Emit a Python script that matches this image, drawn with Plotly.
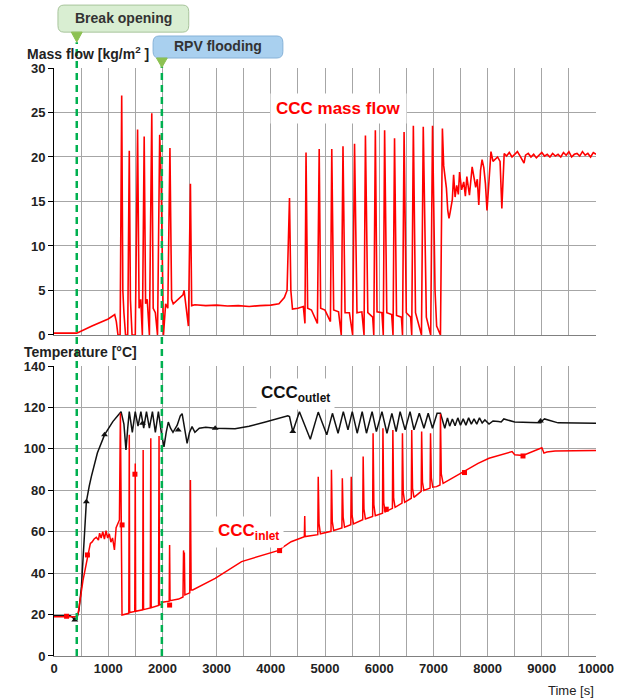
import plotly.graph_objects as go

# ---------------- data ----------------
flow_t = [0, 400, 420, 700, 1000, 1120, 1150, 1180, 1220, 1249, 1270, 1290, 1320, 1360, 1389, 1410, 1440, 1500,
          1542, 1570, 1600, 1630, 1664, 1690, 1720, 1760, 1804, 1830, 1870, 1910, 1950, 1975, 2000, 2020, 2060,
          2100, 2139, 2170, 2200, 2300, 2380, 2400, 2440, 2480, 2517, 2540, 2600, 2800, 3000, 3200, 3400, 3600,
          3800, 4000, 4150, 4250, 4300, 4345, 4370, 4400, 4500, 4600, 4630, 4650, 4680, 4750, 4860, 4893, 4920,
          5000, 5100, 5125, 5160, 5250, 5300, 5332, 5370, 5450, 5510, 5545, 5590, 5680, 5720, 5746, 5790, 5880,
          5900, 5929, 5960, 6050, 6075, 6100, 6140, 6230, 6255, 6283, 6320, 6410, 6430, 6459, 6500, 6580, 6600,
          6630, 6670, 6780, 6813, 6850, 6870, 6950, 6984, 7030, 7060, 7130, 7166, 7190, 7209, 7240, 7265, 7288,
          7310, 7349, 7373, 7400, 7430, 7460, 7483, 7520, 7560, 7590, 7617, 7665, 7715, 7750, 7780, 7810, 7837,
          7870, 7898, 7930, 7960, 7989, 8030, 8062, 8100, 8140, 8184, 8230, 8263, 8306, 8350, 8400, 8450, 8500,
          8550, 8600, 8672, 8700, 8750, 8800, 8850, 8900, 8950, 9000, 9050, 9100, 9150, 9200, 9250, 9300, 9350,
          9400, 9450, 9500, 9550, 9600, 9650, 9700, 9750, 9800, 9850, 9900, 9950, 10000]
flow_m = [0.2, 0.2, 0.2, 1.0, 1.8, 2.3, 1.5, 0, 0, 26.9, 5, 2.5, 0, 0, 20.7, 4, 0, 0,
          23.1, 3, 4, 0, 22.3, 3.5, 4, 0, 24.9, 3, 2.5, 0, 22.5, 18, 4, 0, 3.5,
          3, 21.0, 4, 3.5, 4, 4.5, 5, 3, 1, 17.0, 3.3, 3.4, 3.3, 3.35, 3.25, 3.3, 3.2,
          3.3, 3.35, 3.5, 4.2, 5, 15.4, 5, 2.9, 3.0, 3.2, 1.3, 20.5, 3, 2.8, 1.3, 20.9, 3,
          2.8, 1.5, 20.9, 2.8, 2.6, 0, 21.2, 2.5, 2.5, 0, 21.5, 2.5, 2.6, 0, 22.4, 2.5, 2.0,
          0, 23.0, 2.6, 2.5, 0, 23.0, 2.5, 2.3, 0, 22.1, 2.2, 2.0, 0, 22.8, 2.5, 2.0, 0,
          23.5, 2.5, 0, 23.4, 9, 2, 0, 23.5, 5, 1, 0, 23.2, 19, 17.8, 16.5, 14.0, 13.1,
          13.8, 15.2, 18.0, 15.5, 16.8, 15.8, 18.3, 16.3, 17.2, 15.6, 17.8, 15.7, 18.9, 17.8, 16.6, 17.5, 14.6,
          18.5, 19.7, 18.8, 17.0, 14.0, 18.5, 20.6, 19.5, 19.8, 20.0, 19.5, 14.2, 20.4, 20.1, 20.5, 20.0, 20.3,
          20.6, 20.1, 19.3, 20.2, 20.4, 20.0, 20.3, 19.9, 20.2, 20.5, 20.1, 20.3, 20.0, 20.4, 20.1, 20.3, 20.0,
          20.5, 20.2, 20.6, 20.0, 20.3, 20.4, 20.1, 20.6, 20.2, 20.4, 20.0, 20.5, 20.3]

out_t = [0, 300, 350, 384, 420, 460, 506, 550, 597, 650, 689, 800, 932, 1085, 1180, 1237, 1290, 1328, 1360, 1389,
         1445, 1499, 1550, 1603, 1655, 1706, 1760, 1816, 1870, 1926, 1980, 2029, 2070, 2109, 2150, 2195, 2273,
         2330, 2364, 2400, 2456, 2500, 2547, 2600, 2680, 2800, 2974, 3340, 3600, 3900, 4200, 4314, 4345, 4406,
         4528, 4729, 4875, 5033, 5137, 5241, 5338, 5424, 5503, 5594, 5686, 5765, 5869, 5948, 6051, 6143, 6234,
         6313, 6386, 6478, 6569, 6642, 6740, 6825, 6904, 6983, 7068, 7130, 7210, 7260, 7300, 7350, 7400, 7450,
         7500, 7550, 7600, 7650, 7700, 7750, 7800, 7850, 7900, 7950, 8026, 8100, 8200, 8250, 8300, 8500, 8800,
         8976, 9000, 9050, 9300, 9600, 10000]
out_T = [19.5, 19.5, 18.5, 17.4, 18, 22, 33.5, 55, 74.5, 82, 86.6, 98, 106.8, 113.2, 116, 118, 112, 99.5, 110, 118,
         108, 118, 111, 118, 110, 118, 110, 118, 108, 118, 108, 101, 108, 113, 110, 108, 111.5,
         116, 117, 112, 102.7, 108, 110.8, 108, 110, 110.5, 110, 109.7, 111, 113, 115, 116, 115.6, 108.4,
         118.0, 104.7, 117.8, 106.8, 117.2, 107.6, 118.0, 109.2, 118.0, 107.6, 118.0, 107.6, 118.0, 108.4, 118.0, 107.6, 117.2,
         108.4, 118.0, 109.2, 118.0, 109.2, 117.2, 110.0, 117.2, 110.0, 117.2, 117.2, 110.0, 115.0, 111.0, 114.5, 111.2, 115.0,
         111.5, 114.5, 111.5, 115.0, 112.0, 114.5, 112.0, 115.0, 112.5, 114.0, 112.0, 113.5, 113.2, 113.0, 114.5, 113.0, 112.8, 112.6,
         113.5, 114.5, 112.6, 112.5, 112.4, 112.4]

in_t = [0, 420, 445, 536, 628, 671, 700, 740, 780, 820, 841, 870, 900, 930, 960, 990, 1020, 1050, 1080, 1115,
        1146, 1207, 1225, 1240, 1255, 1380, 1389, 1396, 1490, 1499, 1506, 1636, 1645, 1652, 1777, 1786, 1793,
        1929, 1938, 1945, 1990, 2000, 2100, 2125, 2133, 2141, 2300, 2380, 2390, 2400, 2405, 2415, 2505, 2517,
        2530, 2560, 2974, 3461, 4132, 4375, 4619, 4626, 4633, 4867, 4875, 4890, 4915, 5111, 5119, 5134, 5160,
        5312, 5320, 5335, 5360, 5476, 5484, 5499, 5525, 5696, 5704, 5719, 5745, 5879, 5887, 5902, 5928, 6061,
        6069, 6084, 6110, 6244, 6252, 6267, 6293, 6421, 6429, 6444, 6470, 6592, 6600, 6615, 6641, 6775, 6783,
        6798, 6824, 6939, 6947, 6962, 6988, 7057, 7122, 7130, 7145, 7179, 7337, 7568, 7824, 8026, 8452, 8500,
        8653, 9001, 9040, 9092, 9244, 9600, 10000]
in_T = [19, 19, 20.5, 36.7, 48.8, 54.4, 55, 56.5, 57.3, 56, 59.3, 57, 60, 56.5, 60.5, 57, 59, 55, 57, 51.2,
        62, 65.7, 117.2, 60, 19.8, 20.6, 106.8, 21, 21.5, 93, 21.6, 22.3, 99.5, 22.4, 23.2, 105.2, 23.3,
        24.4, 106.3, 24.6, 25, 26, 26.3, 26.5, 53.6, 26.7, 27.5, 28.5, 51, 45, 50, 29.5, 30.5, 85,
        32, 31.9, 37.5, 45.6, 50.9, 55.2, 57.6, 67.6, 57.7, 58.6, 86.6, 64, 59, 60.2, 89.9, 65, 60.6,
        61.8, 85.8, 67, 62.2, 63.4, 86.6, 68, 63.8, 65.8, 96.3, 71, 66.2, 67.4, 107.6, 73, 67.8, 69.0,
        110.0, 74, 69.6, 71.3, 109.2, 76, 71.8, 73.8, 107.6, 79, 74.2, 76.2, 109.2, 81, 76.6, 79.5, 108.4,
        84, 79.9, 81.1, 107.6, 86, 81.5, 81.8, 82.6, 117.0, 88, 83.4, 85.8, 89.0, 93.0, 95.5, 98.7, 97.2,
        96.8, 100.6, 98.0, 98.5, 99.0, 99.1, 99.2]

in_mark_t = [232, 617, 1256, 1493, 2133, 4162, 6130, 7574, 8653]
in_mark_T = [19.2, 48.8, 63.3, 87.8, 24.6, 50.9, 70.9, 88.6, 96.6]
out_mark_t = [384, 597, 932, 1633, 2291, 2974, 4406, 8976]
out_mark_T = [17.4, 74.5, 106.8, 112.4, 109.2, 110.0, 108.4, 113.5]

break_t = 420
flood_t = 1990

# --------------- figure ---------------
RED = "#ff0000"
GRID = "#a6a6a6"
FONT = "Liberation Sans, Arial, sans-serif"

fig = go.Figure()
fig.add_trace(go.Scatter(x=flow_t, y=flow_m, mode="lines", line=dict(color=RED, width=1.6),
                         xaxis="x2", yaxis="y2", showlegend=False))
fig.add_trace(go.Scatter(x=out_t, y=out_T, mode="lines", line=dict(color="#111111", width=1.5),
                         showlegend=False))
fig.add_trace(go.Scatter(x=in_t, y=in_T, mode="lines", line=dict(color=RED, width=1.5),
                         showlegend=False))
fig.add_trace(go.Scatter(x=out_mark_t, y=out_mark_T, mode="markers",
                         marker=dict(symbol="triangle-up", size=6, color="#111111"), showlegend=False))
fig.add_trace(go.Scatter(x=in_mark_t, y=in_mark_T, mode="markers",
                         marker=dict(symbol="square", size=5, color=RED), showlegend=False))

tickfont = dict(family=FONT, size=13, color="#222222", weight="bold")

fig.update_layout(
    width=626, height=699,
    margin=dict(l=54, r=20, t=68, b=43),
    plot_bgcolor="white", paper_bgcolor="white",
    xaxis=dict(domain=[0, 1], range=[0, 10000], dtick=1000, tickformat="d", showgrid=True,
               gridcolor=GRID, gridwidth=1, showline=True, linecolor="#808080", linewidth=1, ticks="",
               minor=dict(dtick=500, showgrid=True, gridcolor=GRID, gridwidth=1),
               zeroline=False, tickfont=tickfont, anchor="y"),
    yaxis=dict(domain=[0, 0.493], range=[0, 140], dtick=20, showgrid=True, gridcolor=GRID,
               showline=True, linecolor="#000000", linewidth=1, ticks="outside", ticklen=5,
               tickcolor="#000000", zeroline=False, tickfont=tickfont, anchor="x"),
    xaxis2=dict(domain=[0, 1], range=[0, 10000], dtick=1000, showticklabels=False, showgrid=True,
                gridcolor=GRID, showline=True, linecolor="#808080", linewidth=1, ticks="",
                minor=dict(dtick=500, showgrid=True, gridcolor=GRID, gridwidth=1),
                zeroline=False, anchor="y2", matches="x"),
    yaxis2=dict(domain=[0.546, 1], range=[0, 30], dtick=5, showgrid=True, gridcolor=GRID,
                showline=True, linecolor="#000000", linewidth=1, ticks="outside", ticklen=5,
                tickcolor="#000000", zeroline=False, tickfont=tickfont, anchor="x2"),
)

# event lines
GREEN = "#00b050"
for t, y1 in [(break_t, 1.044), (flood_t, 1.003)]:
    fig.add_shape(type="line", xref="x", yref="paper", x0=t, x1=t, y0=0, y1=y1,
                  line=dict(color=GREEN, width=2.5, dash="7px,5px"))


def rounded_box(x0, x1, y0, y1, rx, ry):
    return (f"M {x0+rx},{y0} L {x1-rx},{y0} Q {x1},{y0} {x1},{y0+ry} L {x1},{y1-ry} "
            f"Q {x1},{y1} {x1-rx},{y1} L {x0+rx},{y1} Q {x0},{y1} {x0},{y1-ry} "
            f"L {x0},{y0+ry} Q {x0},{y0} {x0+rx},{y0} Z")


rx, ry = 110, 0.011
# Break opening box
fig.add_shape(type="path", xref="x", yref="paper",
              path=rounded_box(break_t - 347, break_t + 2066, 1.061, 1.107, rx, ry),
              fillcolor="#d9eed2", line=dict(color="#a8c49c", width=1))
fig.add_shape(type="path", xref="x", yref="paper",
              path=f"M {break_t-100},1.061 L {break_t+100},1.061 L {break_t},1.044 Z",
              fillcolor="#8cc152", line=dict(color="#8cc152", width=1))
# RPV flooding box
fig.add_shape(type="path", xref="x", yref="paper",
              path=rounded_box(flood_t - 162, flood_t + 2233, 1.017, 1.0544, rx, ry),
              fillcolor="#a9d0ef", line=dict(color="#86b2d8", width=1))
fig.add_shape(type="path", xref="x", yref="paper",
              path=f"M {flood_t-100},1.017 L {flood_t+100},1.017 L {flood_t},1.001 Z",
              fillcolor="#8cc152", line=dict(color="#8cc152", width=1))

fig.add_annotation(x=break_t + 860, y=1.085, xref="x", yref="paper", xanchor="center", yanchor="middle",
                   text="Break opening", showarrow=False,
                   font=dict(family=FONT, size=14, color="#333333", weight="bold"))
fig.add_annotation(x=flood_t + 1036, y=1.037, xref="x", yref="paper", xanchor="center", yanchor="middle",
                   text="RPV flooding", showarrow=False,
                   font=dict(family=FONT, size=14, color="#333333", weight="bold"))

# axis titles
fig.add_annotation(x=-0.053, y=1.0255, xref="paper", yref="paper", xanchor="left", yanchor="middle",
                   text="Mass flow [kg/m<sup>2</sup> ]", showarrow=False,
                   font=dict(family=FONT, size=14, color="#222222", weight="bold"))
fig.add_annotation(x=-0.0585, y=0.517, xref="paper", yref="paper", xanchor="left", yanchor="middle",
                   text="Temperature [°C]", showarrow=False,
                   font=dict(family=FONT, size=14, color="#222222", weight="bold"))
fig.add_annotation(x=1.0, y=-0.058, xref="paper", yref="paper", xanchor="right", yanchor="middle",
                   text="Time [s]", showarrow=False, font=dict(family=FONT, size=13, color="#222222"))

# series labels
fig.add_annotation(x=5247, y=25.5, xref="x2", yref="y2", text="CCC mass flow", showarrow=False,
                   bgcolor="white", borderpad=5,
                   font=dict(family=FONT, size=17, color=RED, weight="bold"))
fig.add_annotation(x=4460, y=126.5, xref="x", yref="y", text="CCC<sub>outlet</sub>", showarrow=False,
                   bgcolor="white", borderpad=4,
                   font=dict(family=FONT, size=17, color="#111111", weight="bold"))
fig.add_annotation(x=3583, y=60, xref="x", yref="y", text="CCC<sub>inlet</sub>", showarrow=False,
                   bgcolor="white", borderpad=4,
                   font=dict(family=FONT, size=17, color=RED, weight="bold"))

fig.write_html("out.html")
